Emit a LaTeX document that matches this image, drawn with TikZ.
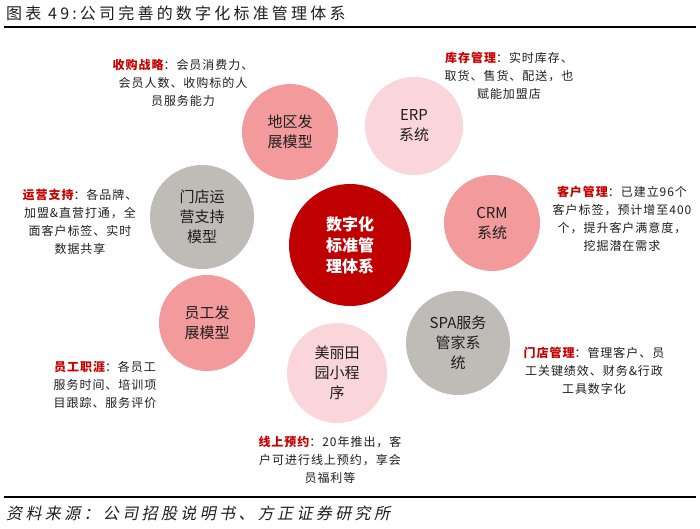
\documentclass[tikz,border=0pt]{standalone}
\usepackage{fontspec}
\setmainfont{Noto Sans CJK SC}
\newfontfamily\labfont{Noto Sans CJK SC}[LetterSpace=8]
\newfontfamily\ttlfont{Noto Sans CJK SC}[LetterSpace=20]
\newfontfamily\srcfont{Noto Sans CJK SC}[LetterSpace=21,FakeSlant=0.2]
\definecolor{pinkA}{RGB}{242,154,156}
\definecolor{pinkB}{RGB}{250,214,219}
\definecolor{grayC}{RGB}{191,187,183}
\definecolor{darkred}{RGB}{192,0,0}
\definecolor{labred}{RGB}{200,0,0}
\definecolor{txt}{RGB}{30,30,30}
\tikzset{
  lbl/.style={font=\labfont\fontsize{12}{18}\selectfont, align=center, text=txt, inner sep=0pt},
  circ/.style={circle, minimum size=#1, inner sep=0pt, align=center, text=txt,
    font=\fontsize{15}{20}\selectfont},
  bigc/.style={circle, fill=darkred, minimum size=122pt, inner sep=0pt, align=center,
    text=white, font=\bfseries\fontsize{16}{21}\selectfont}
}
\newcommand{\kw}[1]{{\color{labred}\bfseries #1}}
\begin{document}
\begin{tikzpicture}[x=1pt,y=-1pt]
\useasboundingbox (0,0) rectangle (700,529);
% title
\node[anchor=west, inner sep=0pt, text=txt, font=\ttlfont\fontsize{16}{18}\selectfont] (title) at (6,13) {图表 49:公司完善的数字化标准管理体系};
\draw[line width=2pt] (4,27) -- (696,27);
\draw[line width=2pt] (4,497) -- (696,497);
\node[anchor=west, inner sep=0pt, text=txt, font=\srcfont\fontsize{16}{18}\selectfont] (src) at (6,513) {资料来源：公司招股说明书、方正证券研究所};
% circles
\node[circ=96pt, fill=pinkA] (c1) at (290,132) {地区发\\展模型};
\node[circ=98pt, fill=pinkB] (c2) at (414,126) {ERP\\系统};
\node[circ=96pt, fill=pinkA] (c3) at (492,223) {CRM\\系统};
\node[circ=104pt, fill=grayC] (c4) at (458,343) {SPA服务\\管家系\\统};
\node[circ=100pt, fill=pinkB] (c5) at (337,373) {美丽田\\园小程\\序};
\node[circ=96pt, fill=pinkA] (c6) at (207,323) {员工发\\展模型};
\node[circ=104pt, fill=grayC] (c7) at (202,217) {门店运\\营支持\\模型};
\node[bigc] (center) at (350,245) {数字化\\标准管\\理体系};
% labels
\node[lbl] (l1) at (183,83) {\kw{收购战略}：会员消费力、\\会员人数、收购标的人\\员服务能力};
\node[lbl] (l2) at (509,76) {\kw{库存管理}：实时库存、\\取货、售货、配送，也\\赋能加盟店};
\node[lbl] (l3) at (80,222) {\kw{运营支持}：各品牌、\\加盟\&直营打通，全\\面客户标签、实时\\数据共享};
\node[lbl] (l4) at (622,219) {\kw{客户管理}：已建立96个\\客户标签，预计增至400\\个，提升客户满意度，\\挖掘潜在需求};
\node[lbl] (l5) at (105,385) {\kw{员工职涯}：各员工\\服务时间、培训项\\目跟踪、服务评价};
\node[lbl] (l6) at (594,371) {\kw{门店管理}：管理客户、员\\工关键绩效、财务\&行政\\工具数字化};
\node[lbl] (l7) at (330,460) {\kw{线上预约}：20年推出，客\\户可进行线上预约，享会\\员福利等};
\end{tikzpicture}
\end{document}
